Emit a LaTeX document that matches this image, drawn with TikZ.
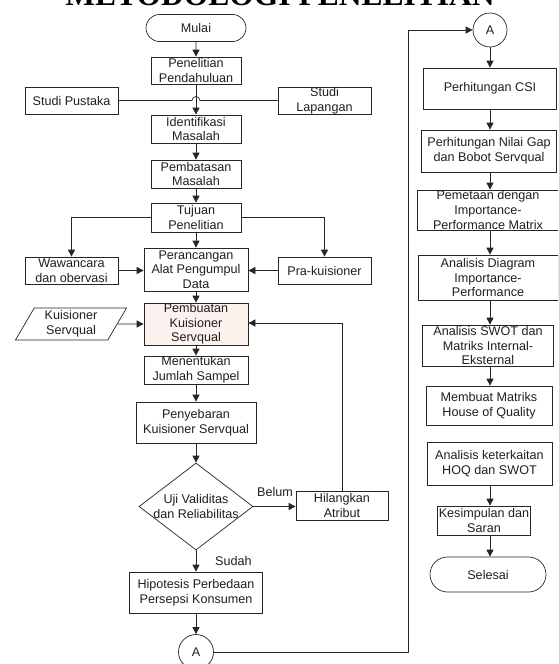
\documentclass[tikz,border=0pt]{standalone}
\usepackage{fontspec}
\setmainfont{Liberation Sans}
\newfontfamily\titlefont{Liberation Serif}
\usetikzlibrary{shapes.geometric,shapes.misc,arrows.meta}
\begin{document}
\begin{tikzpicture}[x=1pt,y=-1pt,
  txt/.style={font=\fontsize{12.6}{14.6}\selectfont, text=black!88, align=center},
  box/.style={txt, draw=black!85, line width=0.7pt, rectangle, inner sep=0pt},
  term/.style={box, rounded rectangle},
  conn/.style={box, circle, minimum size=35pt},
  para/.style={box, trapezium, trapezium left angle=63, trapezium right angle=117, trapezium stretches=true},
  dec/.style={draw=black!85, line width=0.7pt, diamond, inner sep=0pt},
  ln/.style={draw=black!85, line width=0.7pt},
  arr/.style={ln, -{Triangle[length=7pt,width=7pt]}},
  lbl/.style={txt, inner sep=0pt}
]
\useasboundingbox (0,0) rectangle (558,664);
\clip (0,0) rectangle (558,664);

% title (cut off at the top)
\node[anchor=base, inner sep=0pt, font=\titlefont\bfseries\fontsize{31.5}{31.5}\selectfont] (title) at (280,5) {METODOLOGI PENELITIAN};

% main column
\node[term, minimum width=100pt, minimum height=27pt] (mulai) at (196,28) {Mulai};
\node[box, minimum width=90pt, minimum height=27pt] (pp) at (196,70.5) {Penelitian\\Pendahuluan};
\node[box, minimum width=93pt, minimum height=27pt] (sp) at (71.5,100.5) {Studi Pustaka};
\node[box, minimum width=93pt, minimum height=27pt] (sl) at (324.5,100.5) {Studi\\Lapangan};
\node[box, minimum width=90pt, minimum height=28pt] (idm) at (196,129) {Identifikasi\\Masalah};
\node[box, minimum width=90pt, minimum height=28pt] (pbm) at (196,174) {Pembatasan\\Masalah};
\node[box, minimum width=90pt, minimum height=29pt] (tuj) at (196,217.5) {Tujuan\\Penelitian};
\node[box, minimum width=93pt, minimum height=27pt] (waw) at (71.5,270.5) {Wawancara\\dan obervasi};
\node[box, minimum width=104pt, minimum height=43pt] (alat) at (196,269.5) {Perancangan\\Alat Pengumpul\\Data};
\node[box, minimum width=93pt, minimum height=27pt] (pra) at (324.5,270.5) {Pra-kuisioner};
\node[para, minimum width=112pt, minimum height=32pt] (ks) at (71,324) {Kuisioner\\Servqual};
\node[box, fill={rgb,255:red,253;green,243;blue,238}, minimum width=104pt, minimum height=42pt] (buat) at (196,324) {Pembuatan\\Kuisioner\\Servqual};
\node[box, minimum width=104pt, minimum height=28pt] (sampel) at (196,370) {Menentukan\\Jumlah Sampel};
\node[box, minimum width=120pt, minimum height=41pt] (sebar) at (196,422.5) {Penyebaran\\Kuisioner Servqual};
\node[dec, minimum width=114pt, minimum height=87pt] (uji) at (196,506.5) {};
\node[lbl] (ujit) at (196,506.5) {Uji Validitas\\dan Reliabilitas};
\node[box, minimum width=92pt, minimum height=29pt] (hil) at (342,505.5) {Hilangkan\\Atribut};
\node[box, minimum width=133pt, minimum height=41pt] (hip) at (196,592.5) {Hipotesis Perbedaan\\Persepsi Konsumen};
\node[conn] (abot) at (196,652) {A};
\node[lbl, anchor=west] (belum) at (257,492) {Belum};
\node[lbl, anchor=west] (sudah) at (215,561) {Sudah};

% right column
\node[conn, minimum size=34pt] (atop) at (490,30) {A};
\node[box, minimum width=133pt, minimum height=41pt] (csi) at (490,88.5) {Perhitungan CSI};
\node[box, minimum width=135pt, minimum height=42pt] (gap) at (489,151) {Perhitungan Nilai Gap\\dan Bobot Servqual};
\node[box, minimum width=142pt, minimum height=40pt] (pem) at (488,210) {Pemetaan dengan\\Importance-\\Performance Matrix};
\node[box, minimum width=140pt, minimum height=45pt] (aid) at (488,277.5) {Analisis Diagram\\Importance-\\Performance};
\node[box, minimum width=131pt, minimum height=41pt] (swot) at (488,345.5) {Analisis SWOT dan\\Matriks Internal-\\Eksternal};
\node[box, minimum width=126pt, minimum height=39pt] (hoq) at (489,405.5) {Membuat Matriks\\House of Quality};
\node[box, minimum width=125pt, minimum height=43pt] (ket) at (489.5,463.5) {Analisis keterkaitan\\HOQ dan SWOT};
\node[box, minimum width=93pt, minimum height=29pt] (kes) at (484,520.5) {Kesimpulan dan\\Saran};
\node[term, minimum width=116pt, minimum height=35pt] (selesai) at (488,574.5) {Selesai};

% helper coordinates
\coordinate (hopL) at (192,100.5);
\coordinate (fb) at (342,323);
\coordinate (rx) at (408,0);
\coordinate (cx) at (490,0);

% connectors main column
\draw[arr] (mulai) -- (pp);
\draw[arr] (pp) -- (idm);
\draw[ln] (sp.east) -- (hopL) arc[start angle=180, end angle=0, radius=4pt] -- (sl.west);
\draw[arr] (idm) -- (pbm);
\draw[arr] (pbm) -- (tuj);
\draw[arr] (tuj) -- (alat);
\draw[arr] (tuj.west) -| (waw.north);
\draw[arr] (tuj.east) -| (pra.north);
\draw[arr] (waw.east) -- (alat.west |- waw.east);
\draw[arr] (pra.west) -- (alat.east |- pra.west);
\draw[arr] (alat) -- (buat);
\draw[arr] (ks.east) -- (buat.west);
\draw[arr] (buat) -- (sampel);
\draw[arr] (sampel) -- (sebar);
\draw[arr] (sebar) -- (uji.north);
\draw[arr] (uji.east) -- (hil.west |- uji.east);
\draw[arr] (hil.north) |- (buat.east |- fb);
\draw[arr] (uji.south) -- (hip.north);
\draw[arr] (hip) -- (abot);
\draw[arr] (abot.east) -- (abot.east -| rx) |- (atop.west);

% connectors right column
\draw[arr] (atop.south) -- (csi.north -| atop.south);
\draw[arr] (csi.south -| cx) -- (gap.north -| cx);
\draw[arr] (gap.south -| cx) -- (pem.north -| cx);
\draw[arr] (pem.south -| cx) -- (aid.north -| cx);
\draw[arr] (aid.south -| cx) -- (swot.north -| cx);
\draw[arr] (swot.south -| cx) -- (hoq.north -| cx);
\draw[arr] (ket.south -| cx) -- (kes.north -| cx);
\draw[arr] (kes.south -| cx) -- (selesai.north -| cx);
\end{tikzpicture}
\end{document}
